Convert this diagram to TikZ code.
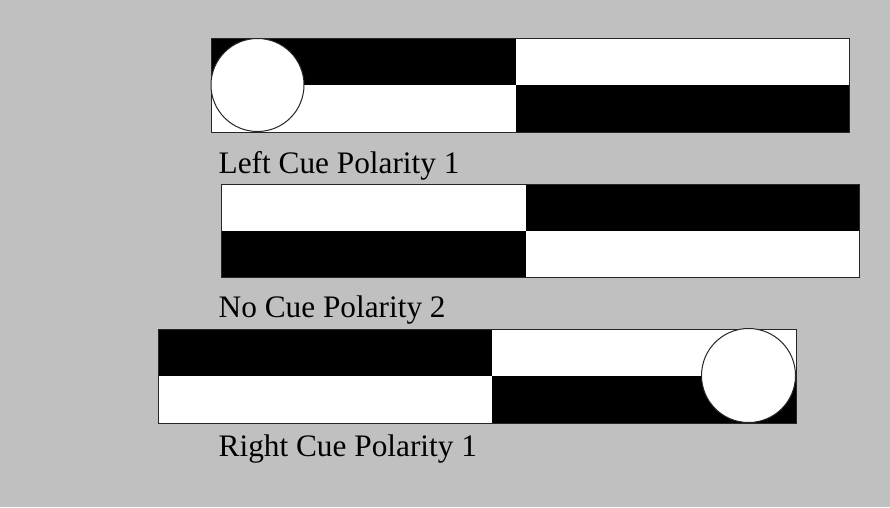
\documentclass[tikz,border=0pt]{standalone}
\usepackage{fontspec}
\setmainfont{Liberation Serif}
\definecolor{bggray}{RGB}{192,192,192}

\begin{document}
\begin{tikzpicture}[x=1pt, y=-1pt,
  frame/.style={draw=black!85, line width=1pt},
  blk/.style={fill=black},
  cuedisc/.style={draw=black!85, fill=white, line width=1pt},
  lbl/.style={anchor=base west, inner sep=0pt,
              font=\fontsize{31.3}{36}\selectfont}
]
  \fill[bggray] (0,0) rectangle (890,507);
  \useasboundingbox (0,0) rectangle (890,507);

  % left cue, polarity 1
  \fill[white] (211,38) rectangle (849,132);
  \fill[blk] (211,38) rectangle (516,85);
  \fill[blk] (516,85) rectangle (849,132);
  \draw[frame] (211,38) rectangle (849,132);
  \draw[cuedisc] (257.5,85) circle (46.5);
  \node[lbl] (leftlbl) at (218.5,173.3) {Left Cue Polarity 1};

  % no cue, polarity 2
  \fill[white] (221,184) rectangle (859,277);
  \fill[blk] (526,184) rectangle (859,231);
  \fill[blk] (221,231) rectangle (526,277);
  \draw[frame] (221,184) rectangle (859,277);
  \node[lbl] (nolbl) at (218.5,317.3) {No Cue Polarity 2};

  % right cue, polarity 1
  \fill[white] (158,329) rectangle (796,423);
  \fill[blk] (158,329) rectangle (492,376);
  \fill[blk] (492,376) rectangle (796,423);
  \draw[frame] (158,329) rectangle (796,423);
  \draw[cuedisc] (748.5,375.5) circle (47);
  \node[lbl] (rightlbl) at (218.5,456.7) {Right Cue Polarity 1};
\end{tikzpicture}
\end{document}
